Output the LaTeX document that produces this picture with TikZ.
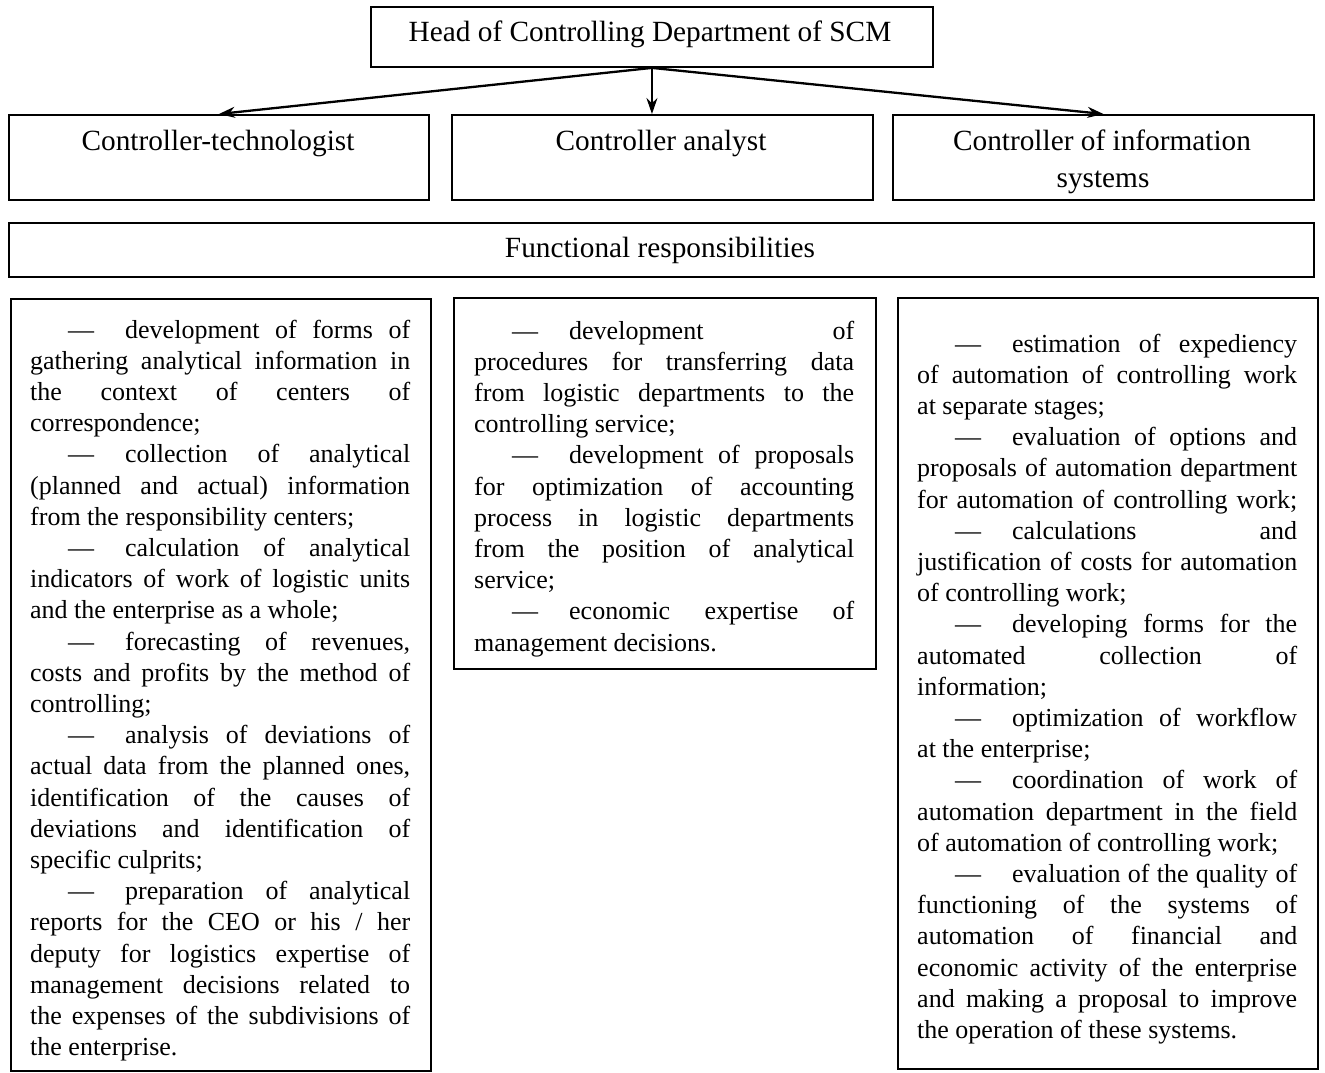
\documentclass[tikz,border=0pt]{standalone}
\usepackage{fontspec}
\setmainfont{Liberation Serif}
\usetikzlibrary{arrows.meta,calc}

% justified line, dash-led first line, ragged last line
\newcommand\Jfull[1]{\makebox[\linewidth][s]{#1}\par}
\newcommand\Jdash[1]{\makebox[95pt][l]{\hspace*{38pt}—}\makebox[\dimexpr\linewidth-95pt\relax][s]{#1}\par}
\newcommand\Jlast[1]{#1\par}
\newcommand\bodyfont{\fontsize{26pt}{31.2pt}\selectfont}

\tikzset{
  frame/.style={draw=black, line width=1.9pt, rectangle, inner sep=0pt, anchor=north west},
  hdr/.style={font=\fontsize{29.3pt}{34pt}\selectfont, inner sep=0pt, anchor=base},
  body/.style={inner sep=0pt, anchor=base west},
  arr/.style={-{Stealth[length=16pt,width=11pt]}, line width=2.3pt},
}

\begin{document}
\begin{tikzpicture}[x=1pt,y=-1pt]
\useasboundingbox[fill=white] (0,0) rectangle (1325,1073);

% top level
\node[frame, minimum width=562pt, minimum height=60pt] (head) at (370,6) {};
\node[hdr] (headtxt) at (650,42) {Head of Controlling Department of SCM};

% controller positions
\node[frame, minimum width=420pt, minimum height=85pt] (tech) at (8,114) {};
\node[frame, minimum width=421pt, minimum height=85pt] (analyst) at (451,114) {};
\node[frame, minimum width=421pt, minimum height=85pt] (info) at (892,114) {};
\node[hdr] (techtxt) at (218,150) {Controller-technologist};
\node[hdr] (analysttxt) at (661,150) {Controller analyst};
\node[hdr] (infotxt1) at (1102,150) {Controller of information};
\node[hdr] (infotxt2) at (1103,187) {systems};

% subordination arrows
\draw[arr] (head.south) -- (tech.north);
\draw[arr, line width=1.7pt] (head.south) -- (head.south |- analyst.north);
\draw[arr] (head.south) -- (info.north);

% responsibilities banner
\node[frame, minimum width=1305pt, minimum height=54pt] (func) at (8,222) {};
\node[hdr] (functxt) at (660,257) {Functional responsibilities};

% responsibility lists
\node[frame, minimum width=420pt, minimum height=772pt] (techlist) at (10,298) {};
\node[frame, minimum width=422pt, minimum height=371pt] (analystlist) at (453,297) {};
\node[frame, minimum width=420pt, minimum height=771pt] (infolist) at (897,297) {};

\node[body] (techtext) at (30,338) {\parbox[t]{380pt}{\bodyfont
\Jdash{development of forms of}
\Jfull{gathering analytical information in}
\Jfull{the context of centers of}
\Jlast{correspondence;}
\Jdash{collection of analytical}
\Jfull{(planned and actual) information}
\Jlast{from the responsibility centers;}
\Jdash{calculation of analytical}
\Jfull{indicators of work of logistic units}
\Jlast{and the enterprise as a whole;}
\Jdash{forecasting of revenues,}
\Jfull{costs and profits by the method of}
\Jlast{controlling;}
\Jdash{analysis of deviations of}
\Jfull{actual data from the planned ones,}
\Jfull{identification of the causes of}
\Jfull{deviations and identification of}
\Jlast{specific culprits;}
\Jdash{preparation of analytical}
\Jfull{reports for the CEO or his / her}
\Jfull{deputy for logistics expertise of}
\Jfull{management decisions related to}
\Jfull{the expenses of the subdivisions of}
\Jlast{the enterprise.}}};

\node[body] (analysttext) at (474,339) {\parbox[t]{380pt}{\bodyfont
\Jdash{development of}
\Jfull{procedures for transferring data}
\Jfull{from logistic departments to the}
\Jlast{controlling service;}
\Jdash{development of proposals}
\Jfull{for optimization of accounting}
\Jfull{process in logistic departments}
\Jfull{from the position of analytical}
\Jlast{service;}
\Jdash{economic expertise of}
\Jlast{management decisions.}}};

\node[body] (infotext) at (917,352) {\parbox[t]{380pt}{\bodyfont
\Jdash{estimation of expediency}
\Jfull{of automation of controlling work}
\Jlast{at separate stages;}
\Jdash{evaluation of options and}
\Jfull{proposals of automation department}
\Jfull{for automation of controlling work;}
\Jdash{calculations and}
\Jfull{justification of costs for automation}
\Jlast{of controlling work;}
\Jdash{developing forms for the}
\Jfull{automated collection of}
\Jlast{information;}
\Jdash{optimization of workflow}
\Jlast{at the enterprise;}
\Jdash{coordination of work of}
\Jfull{automation department in the field}
\Jlast{of automation of controlling work;}
\Jdash{evaluation of the quality of}
\Jfull{functioning of the systems of}
\Jfull{automation of financial and}
\Jfull{economic activity of the enterprise}
\Jfull{and making a proposal to improve}
\Jlast{the operation of these systems.}}};
\end{tikzpicture}
\end{document}
